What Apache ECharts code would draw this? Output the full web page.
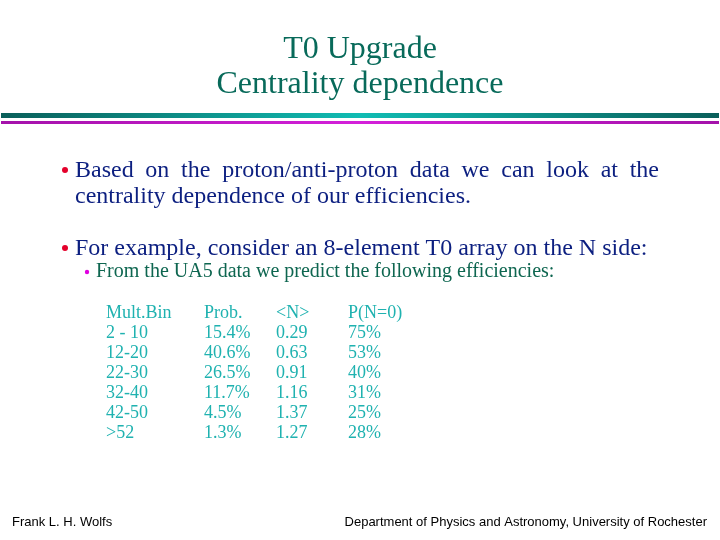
<!DOCTYPE html>
<html>
<head>
<meta charset="utf-8">
<script src="https://cdn.jsdelivr.net/npm/echarts@6/dist/echarts.min.js"></script>
<style>
  html, body { margin: 0; padding: 0; background: #fff; }
  #main { width: 720px; height: 540px; }
</style>
</head>
<body>
<div id="main"></div>
<script>
// table contents
var headers = ["Mult.Bin", "Prob.", "<N>", "P(N=0)"];
var multBins = ["2 - 10", "12-20", "22-30", "32-40", "42-50", ">52"];
var probs = [15.4, 40.6, 26.5, 11.7, 4.5, 1.3];
var meanN = [0.29, 0.63, 0.91, 1.16, 1.37, 1.27];
var pZero = [75, 53, 40, 31, 25, 28];

var titleLines = ["T0 Upgrade", "Centrality dependence"];
var bullet1 = ["Based on the proton/anti-proton data we can look at the",
               "centrality dependence of our efficiencies."];
var bullet2 = "For example, consider an 8-element T0 array on the N side:";
var subBullet = "From the UA5 data we predict the following efficiencies:";
var footerLeft = "Frank L. H. Wolfs";
var footerRight = "Department of Physics and Astronomy, University of Rochester";

var SERIF = '"Liberation Serif", "Times New Roman", serif';
var SANS = '"Liberation Sans", Arial, sans-serif';

// canvas used only to measure words for the justified line
var measureCtx = document.createElement("canvas").getContext("2d");
function textWidth(s, size, family) {
  measureCtx.font = size + "px " + family;
  return measureCtx.measureText(s).width;
}

// baseline -> middle (zrender draws text centred on y)
function txt(str, x, baseline, size, color, family, align) {
  return {
    type: "text",
    x: x,
    y: baseline - size * 0.33,
    style: {
      text: str,
      fill: color,
      font: size + "px " + family,
      align: align || "left",
      verticalAlign: "middle"
    }
  };
}

var elements = [];

// title
elements.push(txt(titleLines[0], 360, 60, 32, "#086a5a", SERIF, "center"));
elements.push(txt(titleLines[1], 360, 95, 32, "#086a5a", SERIF, "center"));

// separator bars
elements.push({
  type: "rect",
  shape: { x: 1, y: 113, width: 718, height: 5 },
  style: {
    fill: new echarts.graphic.LinearGradient(0, 0, 1, 0, [
      { offset: 0, color: "#0a5f5a" },
      { offset: 0.5, color: "#10bcb3" },
      { offset: 1, color: "#0a5f5a" }
    ])
  }
});
elements.push({
  type: "rect",
  shape: { x: 1, y: 121, width: 718, height: 3 },
  style: {
    fill: new echarts.graphic.LinearGradient(0, 0, 1, 0, [
      { offset: 0, color: "#a412aa" },
      { offset: 0.5, color: "#d420da" },
      { offset: 1, color: "#a412aa" }
    ])
  }
});

// bullet dots
elements.push({ type: "circle", shape: { cx: 65, cy: 170, r: 3 }, style: { fill: "#e4002b" } });
elements.push({ type: "circle", shape: { cx: 65, cy: 248, r: 3 }, style: { fill: "#e4002b" } });
elements.push({ type: "circle", shape: { cx: 87, cy: 272, r: 2.2 }, style: { fill: "#e000e0" } });

// first bullet, line 1 justified between x=75 and x=659
var navy = "#0c1f80";
var words = bullet1[0].split(" ");
var wsum = 0;
words.forEach(function (w) { wsum += textWidth(w, 24, SERIF); });
var gap = (659 - 75 - wsum) / (words.length - 1);
var cx = 75;
words.forEach(function (w) {
  elements.push(txt(w, cx, 179, 24, navy, SERIF));
  cx += textWidth(w, 24, SERIF) + gap;
});
elements.push(txt(bullet1[1], 75, 205, 24, navy, SERIF));
elements.push(txt(bullet2, 75, 257, 24, navy, SERIF));
elements.push(txt(subBullet, 96, 278, 20, "#0e6650", SERIF));

// table
var colX = [106, 204, 276, 348];
var teal = "#1fb2b0";
var rowBase = 319, rowStep = 20;
headers.forEach(function (h, c) {
  elements.push(txt(h, colX[c], rowBase, 18, teal, SERIF));
});
multBins.forEach(function (bin, i) {
  var b = rowBase + rowStep * (i + 1);
  var cells = [bin, probs[i].toFixed(1) + "%", meanN[i].toFixed(2), pZero[i] + "%"];
  cells.forEach(function (s, c) {
    elements.push(txt(s, colX[c], b, 18, teal, SERIF));
  });
});

// footer
elements.push(txt(footerLeft, 12, 527, 13, "#000", SANS));
elements.push(txt(footerRight, 707, 527, 13, "#000", SANS, "right"));

var chart = echarts.init(document.getElementById("main"));
chart.setOption({
  backgroundColor: "#fff",
  animation: false,
  graphic: { elements: elements }
});
window.addEventListener("resize", function () { chart.resize(); });
</script>
</body>
</html>
